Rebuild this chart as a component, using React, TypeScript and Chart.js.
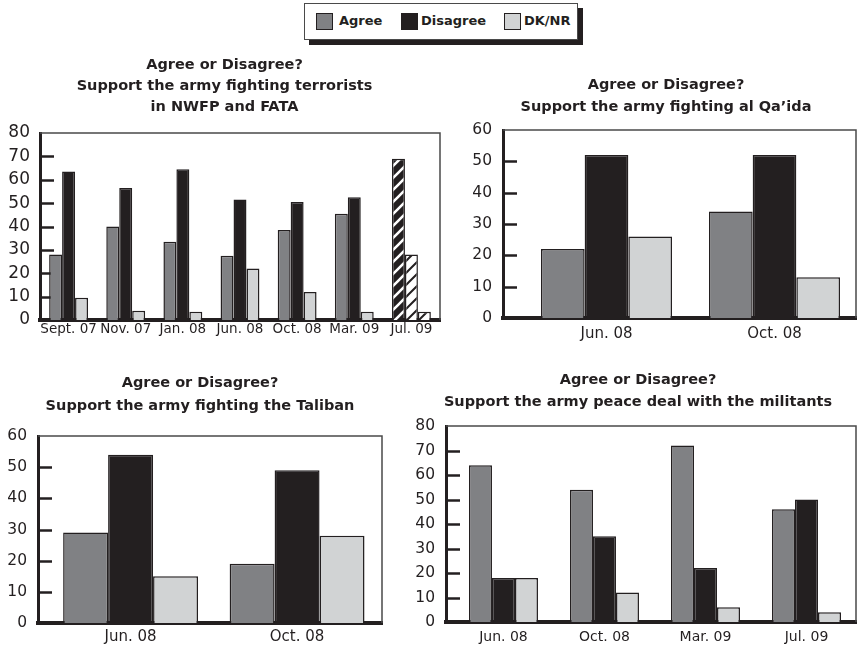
import React, { useEffect, useRef } from "react";
import { Chart, registerables } from "chart.js";

Chart.register(...registerables);

// ---------- DATA ----------
const seriesNames = ["Agree", "Disagree", "DK/NR"];

const terroristLabels = ["Sept. 07", "Nov. 07", "Jan. 08", "Jun. 08", "Oct. 08", "Mar. 09", "Jul. 09"];
const terroristAgree = [28, 40, 33.5, 27.5, 38.5, 45.5, 69];
const terroristDisagree = [63.5, 56.5, 64.5, 51.5, 50.5, 52.5, 28];
const terroristDk = [9.5, 4, 3.5, 22, 12, 3.5, 3.5];

const qaidaLabels = ["Jun. 08", "Oct. 08"];
const qaidaAgree = [22, 34];
const qaidaDisagree = [52, 52];
const qaidaDk = [26, 13];

const talibanLabels = ["Jun. 08", "Oct. 08"];
const talibanAgree = [29, 19];
const talibanDisagree = [54, 49];
const talibanDk = [15, 28];

const peaceLabels = ["Jun. 08", "Oct. 08", "Mar. 09", "Jul. 09"];
const peaceAgree = [64, 54, 72, 46];
const peaceDisagree = [18, 35, 22, 50];
const peaceDk = [18, 12, 6, 4];

const terroristTitle = ["Agree or Disagree?", "Support the army fighting terrorists", "in NWFP and FATA"];
const qaidaTitle = ["Agree or Disagree?", "Support the army fighting al Qa\u2019ida"];
const talibanTitle = ["Agree or Disagree?", "Support the army fighting the Taliban"];
const peaceTitle = ["Agree or Disagree?", "Support the army peace deal with the militants"];

// ---------- STYLE ----------
const INK = "#231f20";
const AGREE_C = "#808184";
const DISAGREE_C = "#231f20";
const DK_C = "#d1d3d4";
const FONT = "'DejaVu Sans', 'Open Sans', sans-serif";

function makeHatch(bg: string, fg: string, lw: number) {
  const s = 12;
  const c = document.createElement("canvas");
  c.width = s;
  c.height = s;
  const g = c.getContext("2d")!;
  g.fillStyle = bg;
  g.fillRect(0, 0, s, s);
  g.strokeStyle = fg;
  g.lineWidth = lw;
  g.beginPath();
  g.moveTo(-s, 2 * s); g.lineTo(2 * s, -s);
  g.moveTo(-s, s); g.lineTo(s, -s);
  g.moveTo(0, 2 * s); g.lineTo(2 * s, 0);
  g.stroke();
  return g.createPattern(c, "repeat")!;
}

const framePlugin = {
  id: "frameAndTicks",
  beforeDatasetsDraw(chart: any) {
    const { ctx, chartArea: a } = chart;
    const y = chart.scales.y;
    ctx.save();
    ctx.strokeStyle = INK;
    ctx.lineWidth = 2.5;
    y.ticks.forEach((t: any) => {
      if (t.value === y.min || t.value === y.max) return;
      const py = Math.round(y.getPixelForValue(t.value)) + 0.5;
      ctx.beginPath();
      ctx.moveTo(a.left, py);
      ctx.lineTo(a.left + 14, py);
      ctx.stroke();
    });
    ctx.restore();
  },
  afterDatasetsDraw(chart: any) {
    const { ctx, chartArea: a } = chart;
    ctx.save();
    ctx.strokeStyle = "#4a4a4a";
    ctx.lineWidth = 1.5;
    ctx.beginPath();
    ctx.moveTo(a.left, a.top);
    ctx.lineTo(a.right, a.top);
    ctx.lineTo(a.right, a.bottom);
    ctx.stroke();
    ctx.restore();
  },
};

type Spec = {
  labels: string[];
  agree: number[];
  disagree: number[];
  dk: number[];
  title: string[];
  yMax: number;
  left: number; top: number; width: number; height: number;
  padL: number; padR: number;
  yW: number; rW: number; xH: number; yPad: number; xPad: number;
  yFont: number; xFont: number;
  catPct: number;
  titleLH: number; titleGap: number;
  xStart?: number; xRange?: number;
  hatchLast?: boolean;
};

function BarPanel({ spec }: { spec: Spec }) {
  const ref = useRef<HTMLCanvasElement>(null);
  useEffect(() => {
    const canvas = ref.current!;
    const blackHatch = makeHatch(DISAGREE_C, "#ffffff", 2.6);
    const whiteHatch = makeHatch("#ffffff", INK, 2);
    const n = spec.labels.length;
    const fill = (base: any, pat: any) =>
      spec.labels.map((_, i) => (spec.hatchLast && i === n - 1 ? pat : base));
    const ds = (label: string, data: number[], color: any) => ({
      label,
      data,
      backgroundColor: color,
      borderColor: INK,
      borderWidth: 1.5,
      barPercentage: 1,
      categoryPercentage: spec.catPct,
    });
    const chart = new Chart(canvas, {
      type: "bar",
      data: {
        labels: spec.labels,
        datasets: [
          ds(seriesNames[0], spec.agree, fill(AGREE_C, blackHatch)),
          ds(seriesNames[1], spec.disagree, fill(DISAGREE_C, whiteHatch)),
          ds(seriesNames[2], spec.dk, fill(DK_C, whiteHatch)),
        ],
      },
      options: {
        responsive: false,
        animation: false,
        devicePixelRatio: 1,
        layout: { padding: { left: spec.padL, right: spec.padR, top: 0, bottom: 0 } },
        plugins: {
          legend: { display: false },
          tooltip: { enabled: false },
          title: {
            display: true,
            text: spec.title,
            color: INK,
            font: { family: FONT, size: 14.5, weight: "bold", lineHeight: spec.titleLH / 14.5 },
            padding: { top: 0, bottom: spec.titleGap },
          },
        },
        scales: {
          x: {
            offset: true,
            grid: { display: false, drawTicks: false },
            border: { display: true, width: 4, color: INK },
            ticks: {
              color: INK,
              font: { family: FONT, size: spec.xFont },
              padding: spec.xPad,
              maxRotation: 0,
              autoSkip: false,
            },
            afterFit: (s: any) => { s.height = spec.xH; },
            afterBuildTicks: (s: any) => {
              if (spec.xStart !== undefined && spec.xRange !== undefined) {
                s._startValue = spec.xStart;
                s._valueRange = spec.xRange;
              }
            },
          },
          y: {
            min: 0,
            max: spec.yMax,
            grid: { display: false, drawTicks: false },
            border: { display: true, width: 3, color: INK },
            ticks: {
              stepSize: 10,
              autoSkip: false,
              color: INK,
              font: { family: FONT, size: spec.yFont },
              padding: spec.yPad,
            },
            afterFit: (s: any) => { s.width = spec.yW; },
          },
          yr: {
            position: "right",
            display: true,
            grid: { display: false, drawTicks: false },
            border: { display: false },
            ticks: { display: false },
            afterFit: (s: any) => { s.width = spec.rW; },
          },
        },
      },
      plugins: [framePlugin],
    } as any);
    return () => chart.destroy();
  }, []);
  return (
    <canvas
      ref={ref}
      width={spec.width}
      height={spec.height}
      style={{ position: "absolute", left: spec.left, top: spec.top, width: spec.width, height: spec.height }}
    />
  );
}

const specs: Spec[] = [
  {
    labels: terroristLabels, agree: terroristAgree, disagree: terroristDisagree, dk: terroristDk,
    title: terroristTitle, yMax: 80,
    left: 0, top: 55, width: 444, height: 291, padL: 7, padR: 2,
    yW: 33, rW: 2, xH: 26, yPad: 10, xPad: 1, yFont: 17, xFont: 13.5, catPct: 0.68,
    titleLH: 21, titleGap: 15, hatchLast: true,
  },
  {
    labels: qaidaLabels, agree: qaidaAgree, disagree: qaidaDisagree, dk: qaidaDk,
    title: qaidaTitle, yMax: 60,
    left: 440, top: 74, width: 422, height: 270, padL: 30, padR: 0,
    yW: 33, rW: 6, xH: 26, yPad: 11, xPad: 7, yFont: 15.5, xFont: 15, catPct: 0.78,
    titleLH: 22, titleGap: 12, xStart: -0.616, xRange: 2.101,
  },
  {
    labels: talibanLabels, agree: talibanAgree, disagree: talibanDisagree, dk: talibanDk,
    title: talibanTitle, yMax: 60,
    left: 0, top: 372, width: 397, height: 277, padL: 5, padR: 2,
    yW: 33, rW: 13, xH: 26, yPad: 11, xPad: 5, yFont: 15.5, xFont: 15, catPct: 0.81,
    titleLH: 23, titleGap: 18, xStart: -0.556, xRange: 2.066,
  },
  {
    labels: peaceLabels, agree: peaceAgree, disagree: peaceDisagree, dk: peaceDk,
    title: peaceTitle, yMax: 80,
    left: 410, top: 369, width: 454, height: 279, padL: 2, padR: 0,
    yW: 34, rW: 8, xH: 26, yPad: 11, xPad: 7, yFont: 15.5, xFont: 14, catPct: 0.683,
    titleLH: 22, titleGap: 13, xStart: -0.569, xRange: 4.059,
  },
];

const legendColors = [AGREE_C, DISAGREE_C, DK_C];
const legendSquareX = [11, 96, 199];
const legendTextX = [34, 116, 219];

function Legend() {
  return (
    <div
      style={{
        position: "absolute", left: 304, top: 3, width: 272, height: 35,
        border: "1.5px solid #4a4a4a", boxShadow: "5px 5px 0 " + INK, background: "#fff",
        fontFamily: FONT, fontWeight: 700, fontSize: 13, color: INK,
      }}
    >
      {seriesNames.map((name, i) => (
        <React.Fragment key={name}>
          <div
            style={{
              position: "absolute", left: legendSquareX[i], top: 9, width: 15, height: 15,
              background: legendColors[i], border: "1px solid " + INK,
            }}
          />
          <div style={{ position: "absolute", left: legendTextX[i], top: 7, lineHeight: "20px", whiteSpace: "nowrap" }}>
            {name}
          </div>
        </React.Fragment>
      ))}
    </div>
  );
}

export default function App() {
  return (
    <div style={{ position: "absolute", left: 0, top: 0, width: 858, height: 652, background: "#fff", overflow: "hidden" }}>
      <Legend />
      {specs.map((s, i) => (
        <BarPanel key={i} spec={s} />
      ))}
    </div>
  );
}
